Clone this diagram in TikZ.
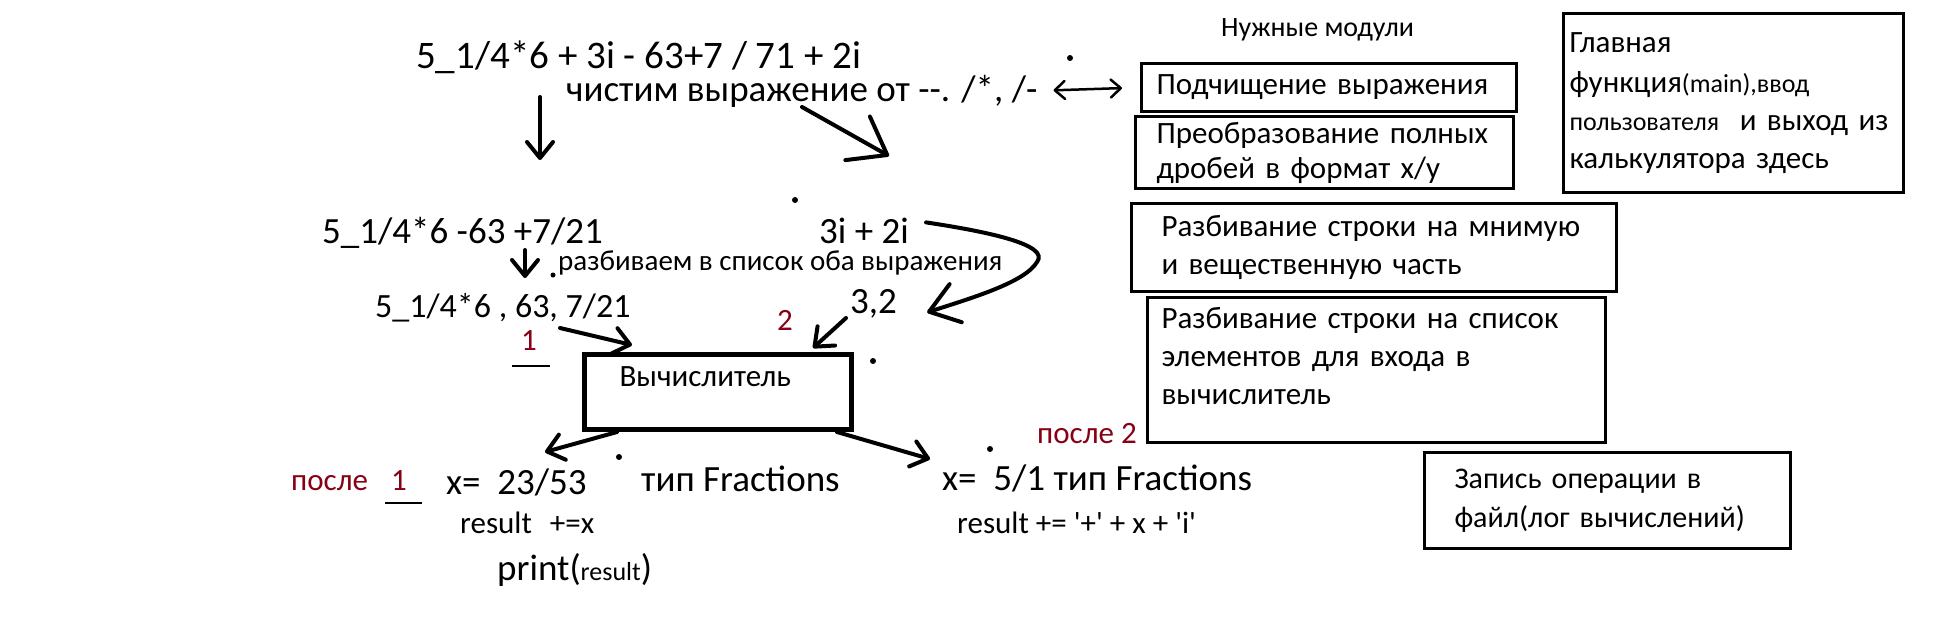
\documentclass[tikz,border=0pt]{standalone}
\usepackage{fontspec}
\setmainfont{Carlito}[Ligatures=TeXOff]
\usetikzlibrary{arrows.meta, positioning}
\definecolor{darkred}{RGB}{136,0,21}

\newcommand{\topfont}{\fontsize{39}{46}\selectfont}
\newcommand{\bigfont}{\fontsize{37}{44}\selectfont}
\newcommand{\midfont}{\fontsize{34}{40}\selectfont}
\newcommand{\boxfont}{\fontsize{31}{38}\selectfont}
\newcommand{\logfont}{\fontsize{30}{39}\selectfont}
\newcommand{\notefont}{\fontsize{29}{35}\selectfont}
\newcommand{\headfont}{\fontsize{28}{34}\selectfont}
\newcommand{\smallfont}{\fontsize{26}{30}\selectfont}

\begin{document}
\begin{tikzpicture}[
  x=1pt, y=-1pt,
  txt/.style={anchor=base west, inner sep=0pt},
  num/.style={txt, text=darkred, font=\boxfont},
  modbox/.style={draw, line width=3pt, anchor=north west, align=left,
                 inner ysep=0pt, font=\boxfont},
  calcbox/.style={draw, line width=5pt, anchor=north west, align=left,
                  inner ysep=0pt, font=\boxfont},
  arr/.style={line width=4pt, line cap=round,
              -{Straight Barb[length=16pt, width=26pt, round]}},
  dbl/.style={line width=2.5pt,
              {Straight Barb[length=10pt, width=18pt, round]}-{Straight Barb[length=10pt, width=18pt, round]}},
  under/.style={line width=1.2pt}
]
  \fill[white] (0,0) rectangle (1959,637);

  % expressions
  \node[txt, font=\topfont] (expr)  at (416,68)  {5\_1/4*6 + 3i - 63+7 / 71 + 2i};
  \node[txt, font=\bigfont] (clean) at (566,101) {чистим выражение от --. /*, /-};
  \node[txt, font=\bigfont] (real)  at (322,243) {5\_1/4*6 -63 +7/21};
  \node[txt, font=\bigfont] (imag)  at (819,243) {3i + 2i};
  \node[txt, font=\notefont] (splitnote) at (558,270) {разбиваем в список оба выражения};
  \node[txt, font=\midfont] (list)  at (375,317) {5\_1/4*6 , 63, 7/21};
  \node[txt, font=\bigfont] (pair)  at (850,313) {3,2};
  \node[num] (n1) at (521,350) {1};
  \node[num] (n2) at (777,330) {2};

  \node[calcbox, minimum width=267pt, minimum height=75pt, text width=197pt,
        inner xsep=35pt, text height=20pt, text depth=31pt] (calc) at (582,352) {Вычислитель};

  % results
  \node[num] (after1) at (291,490) {после\hspace{23pt}1};
  \node[txt, font=\bigfont] (xa)    at (446,494) {x=\ \ 23/53};
  \node[txt, font=\bigfont] (typea) at (641,491) {тип Fractions};
  \node[txt, font=\boxfont] (resa)  at (460,533) {result\hspace{18pt}+=x};
  \node[txt, font=\bigfont] (print) at (497,580) {print({\smallfont result})};
  \node[num] (after2) at (1037,443) {после 2};
  \node[txt, font=\bigfont] (xb)    at (942,490) {x=\ \ 5/1 тип Fractions};
  \node[txt, font=\boxfont] (resb)  at (957,533) {result += '+' + x + 'i'};

  % modules
  \node[txt, font=\headfont] (mods) at (1221,36) {Нужные модули};
  \node[modbox, minimum width=375pt, minimum height=48pt, text width=345pt, inner xsep=15pt]
    (tidy) at (1140,62) {Подчищение выражения};
  \node[modbox, minimum width=378pt, minimum height=72pt, text width=336pt, inner xsep=21pt]
    (frac) at (1134,115) {Преобразование полных\\[-3pt]дробей в формат x/y};
  \node[modbox, minimum width=340pt, minimum height=179pt, text width=328pt, inner xsep=6pt]
    (mainf) at (1562,12) {Главная\\[2pt]функция{\smallfont(main),ввод}\\{\smallfont пользователя}\ \ и выход из\\калькулятора здесь};
  \node[modbox, minimum width=485pt, minimum height=88pt, text width=425pt, inner xsep=30pt]
    (parts) at (1130,202) {Разбивание строки на мнимую\\и вещественную часть};
  \node[modbox, minimum width=458pt, minimum height=145pt, text width=430pt, inner xsep=14pt]
    (split) at (1146,296) {Разбивание строки на список\\элементов для входа в\\вычислитель\\[-10pt]\mbox{}};
  \node[modbox, font=\logfont, minimum width=366pt, minimum height=96pt, text width=306pt, inner xsep=30pt]
    (log) at (1423,451) {Запись операции в\\файл(лог вычислений)};

  % free ends of the hand drawn arrows
  \coordinate (d1s) at (540,97);
  \coordinate (d1e) at (540,160);
  \coordinate (d2s) at (802,107);
  \coordinate (d2e) at (889,156);
  \coordinate (d3s) at (525,250);
  \coordinate (d3e) at (525,278);
  \coordinate (bend) at (1037,262);
  \coordinate (l1) at (560,328);
  \coordinate (l2) at (846,318);
  \coordinate (r1) at (545,452);
  \coordinate (r2) at (930,459);

  \draw[arr] (d1s) -- (d1e);
  \draw[arr, -{Straight Barb[length=34pt, width=50pt, round]}] (d2s) -- (d2e);
  \draw[arr] (d3s) -- (d3e);
  \draw[arr, -{Straight Barb[length=28pt, width=40pt, round]}]
    ([shift={(17,-8)}]imag.east) .. controls (990,232) and (1050,245) .. (bend)
    .. controls (1025,282) and (975,297) .. ([shift={(30,9)}]pair.east);
  \draw[dbl, shorten <=16pt, shorten >=18pt] (clean.east) -- (tidy.west);

  \draw[arr] (l1) -- ([shift={(50,-7)}]calc.north west);
  \draw[arr] (l2) -- ([shift={(-41,-4)}]calc.north east);
  \draw[arr] ([xshift=35pt]calc.south west) -- (r1);
  \draw[arr] ([xshift=-17pt]calc.south east) -- (r2);

  % underlines and stray dots
  \draw[under] ([shift={(-9,16)}]n1.base west) -- ++(38,0);
  \draw[under] ([shift={(15,13)}]after1.base east) -- ++(-37,0);
  \fill (1070,58) circle (3pt) (795,200) circle (3pt) (873,361) circle (3pt)
        (990,449) circle (3pt) (619,457) circle (3pt) (553,275) circle (2.5pt);
\end{tikzpicture}
\end{document}
